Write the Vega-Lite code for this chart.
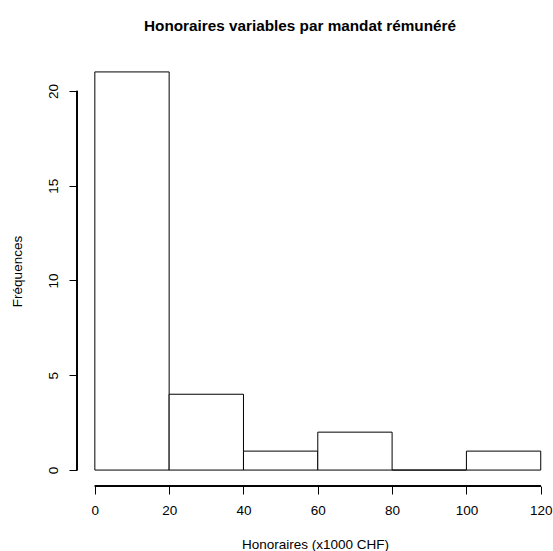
{
  "$schema": "https://vega.github.io/schema/vega-lite/v6.json",
  "autosize": {"type": "none"},
  "padding": {"left": 77, "top": 56, "right": 0, "bottom": 65},
  "width": 476,
  "height": 430,
  "background": "white",
  "title": {
    "text": "Honoraires variables par mandat rémunéré",
    "font": "Liberation Sans",
    "fontSize": 15.3,
    "fontWeight": "bold",
    "color": "black",
    "baseline": "alphabetic",
    "offset": 10,
    "dx": -15
  },
  "config": {
    "view": {"stroke": null},
    "axis": {
      "domain": false,
      "grid": false,
      "tickColor": "black",
      "tickSize": 8,
      "tickWidth": 1,
      "labelFont": "Liberation Sans",
      "labelFontSize": 13.5,
      "labelColor": "black",
      "titleFont": "Liberation Sans",
      "titleFontSize": 13.5,
      "titleFontWeight": "normal",
      "titleColor": "black"
    }
  },
  "data": {
    "values": [
      {"start": 0, "end": 20, "count": 21},
      {"start": 20, "end": 40, "count": 4},
      {"start": 40, "end": 60, "count": 1},
      {"start": 60, "end": 80, "count": 2},
      {"start": 80, "end": 100, "count": 0},
      {"start": 100, "end": 120, "count": 1}
    ]
  },
  "layer": [
    {
      "mark": {"type": "rect", "fill": "white", "stroke": "black", "strokeWidth": 1},
      "encoding": {
        "x": {
          "field": "start", "type": "quantitative",
          "scale": {"domain": [-4.8, 123.3], "nice": false, "zero": false},
          "axis": {"values": [0, 20, 40, 60, 80, 100, 120], "title": "Honoraires (x1000 CHF)", "labelPadding": 9, "titlePadding": 21, "labelFlush": false, "labelOverlap": false}
        },
        "x2": {"field": "end"},
        "y": {
          "field": "count", "type": "quantitative",
          "scale": {"domain": [-0.84, 21.84], "nice": false, "zero": false},
          "axis": {"values": [0, 5, 10, 15, 20], "title": "Fréquences", "labelAngle": -90, "labelAlign": "center", "labelBaseline": "alphabetic", "labelPadding": 12, "titlePadding": 22, "labelFlush": false, "labelOverlap": false}
        },
        "y2": {"datum": 0}
      }
    },
    {
      "mark": {"type": "rule", "color": "black", "strokeWidth": 1},
      "encoding": {
        "x": {"datum": 0, "type": "quantitative"},
        "x2": {"datum": 120},
        "y": {"datum": -0.84, "type": "quantitative"}
      }
    },
    {
      "mark": {"type": "rule", "color": "black", "strokeWidth": 1},
      "encoding": {
        "x": {"datum": -4.8, "type": "quantitative"},
        "y": {"datum": 0, "type": "quantitative"},
        "y2": {"datum": 20}
      }
    }
  ]
}
